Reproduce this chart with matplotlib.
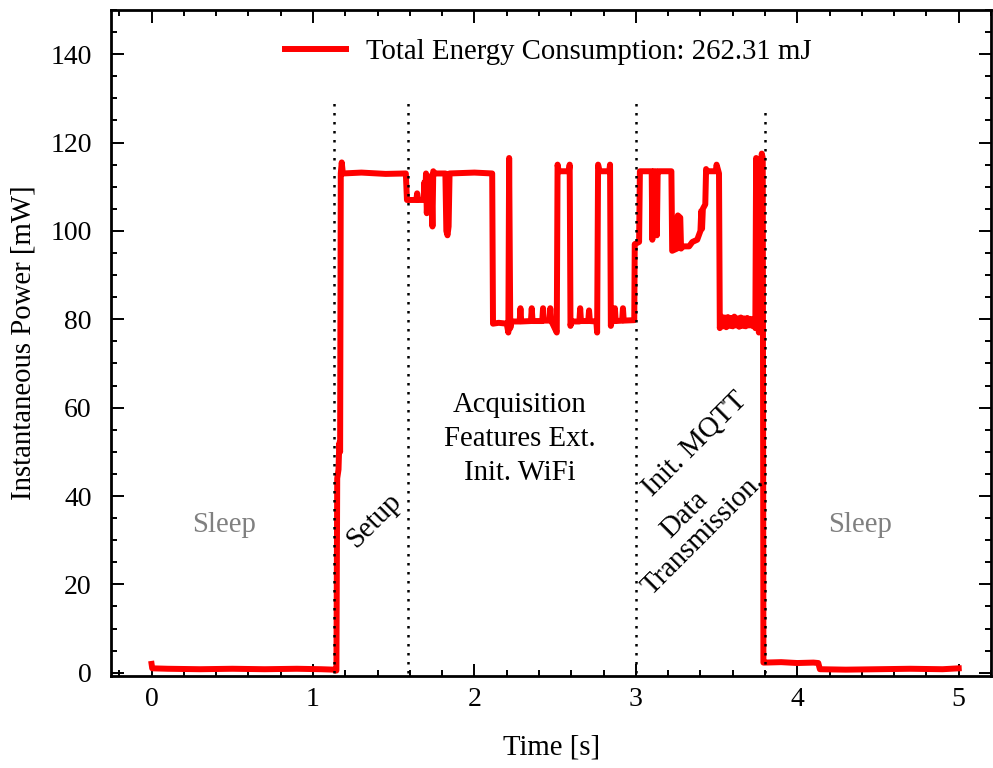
import matplotlib
matplotlib.use("Agg")
import matplotlib.pyplot as plt
from matplotlib.ticker import MultipleLocator

plt.rcParams["font.family"] = ["Liberation Serif", "DejaVu Serif"]
plt.rcParams["mathtext.fontset"] = "stix"

# power trace breakpoints (time in s, power in mW)
t_sleep1 = [0.000, 0.004, 0.10, 0.30, 0.50, 0.70, 0.90, 1.05, 1.13, 1.140]
p_sleep1 = [2.0, 1.0, 0.9, 0.8, 0.9, 0.8, 0.9, 0.8, 0.7, 0.5]

t_setup = [1.145, 1.150, 1.158, 1.163, 1.168, 1.172, 1.178, 1.185, 1.30, 1.45, 1.575]
p_setup = [0.5, 44.0, 46.0, 52.0, 50.0, 113.0, 115.5, 113.0, 113.2, 112.9, 113.0]

t_acq = [1.582, 1.640, 1.645, 1.650, 1.685, 1.690, 1.695, 1.700, 1.705, 1.712,
         1.720, 1.725, 1.733, 1.740, 1.745, 1.752, 1.820, 1.826, 1.833, 1.840,
         1.846, 2.000, 2.110, 2.115, 2.150, 2.200, 2.210, 2.215, 2.222, 2.230,
         2.280, 2.285, 2.290, 2.350, 2.355, 2.360, 2.420, 2.425, 2.430, 2.465,
         2.470, 2.475, 2.510, 2.515, 2.522, 2.530, 2.585, 2.590, 2.595, 2.600,
         2.650, 2.655, 2.660, 2.705, 2.710, 2.715, 2.755, 2.760, 2.766, 2.775,
         2.835, 2.840, 2.845, 2.850, 2.865, 2.870, 2.875, 2.915, 2.920, 2.925,
         2.990]
p_acq = [107.0, 107.0, 108.5, 107.0, 107.0, 111.0, 107.5, 113.0, 104.0, 110.0,
         112.0, 108.0, 112.5, 101.0, 113.5, 113.0, 113.0, 100.0, 99.0, 101.0,
         113.0, 113.2, 113.0, 79.0, 79.2, 79.0, 77.0, 116.5, 78.0, 79.5,
         79.5, 82.5, 79.5, 79.6, 82.5, 79.6, 79.6, 82.5, 79.7, 79.7,
         82.5, 79.7, 77.0, 115.0, 113.5, 113.5, 113.5, 115.0, 78.5, 79.5,
         79.5, 82.5, 79.6, 79.6, 82.0, 79.6, 79.5, 77.0, 115.0, 113.5,
         113.5, 115.0, 78.5, 79.6, 79.6, 82.5, 79.6, 79.7, 82.5, 79.7,
         79.8]

t_mqtt = [2.993, 3.020, 3.025, 3.060, 3.098, 3.102, 3.106, 3.110, 3.125, 3.130,
          3.135, 3.140, 3.220, 3.225, 3.255, 3.260, 3.275, 3.280, 3.290, 3.330,
          3.350, 3.380, 3.400, 3.405, 3.410, 3.415, 3.430, 3.435, 3.440, 3.495,
          3.500, 3.515, 3.520, 3.530, 3.540, 3.550, 3.560, 3.570, 3.580, 3.590,
          3.600, 3.610, 3.620, 3.630, 3.640, 3.650, 3.660, 3.670, 3.680, 3.690,
          3.700, 3.710, 3.720, 3.730, 3.740, 3.745, 3.750, 3.756, 3.762, 3.768,
          3.775, 3.780, 3.786]
p_mqtt = [97.0, 97.5, 113.5, 113.5, 113.5, 98.0, 113.0, 113.5, 113.5, 99.0,
          113.0, 113.5, 113.5, 95.5, 96.0, 103.5, 103.0, 96.0, 96.5, 96.5,
          97.5, 98.0, 100.0, 104.5, 100.5, 105.0, 106.0, 114.0, 113.5, 113.5,
          115.0, 113.0, 78.0, 80.6, 78.4, 80.4, 78.2, 80.5, 78.5, 80.3,
          78.4, 80.6, 78.6, 80.2, 78.3, 80.4, 78.5, 80.2, 78.4, 80.3,
          78.6, 80.1, 78.5, 80.0, 78.0, 116.5, 79.0, 115.5, 77.0, 116.0,
          115.5, 117.5, 116.5]

t_sleep2 = [3.790, 3.800, 3.900, 4.000, 4.100, 4.130, 4.140, 4.300, 4.500, 4.700, 4.900, 5.000]
p_sleep2 = [2.3, 2.3, 2.4, 2.2, 2.3, 2.2, 0.8, 0.7, 0.8, 0.9, 0.8, 1.0]

time_s = t_sleep1 + t_setup + t_acq + t_mqtt + t_sleep2
power_mw = p_sleep1 + p_setup + p_acq + p_mqtt + p_sleep2

# phase boundaries and how high each marker line reaches
phase_t = [1.13, 1.59, 3.00, 3.80]
phase_top = [130, 130, 129, 128]

total_energy_mj = 262.31

FS = 20.7

fig = plt.figure(figsize=(9.93, 7.68), dpi=100)
ax = fig.add_axes([0.112, 0.12, 0.886, 0.867])

ax.plot(time_s, power_mw, color="#ff0000", linewidth=4.3, solid_joinstyle="round",
        label=f"Total Energy Consumption: {total_energy_mj:.2f} mJ")
ax.vlines(phase_t, 0, phase_top, colors="black", linestyles=(0, (1, 2.6)), linewidth=1.8)

ax.text(0.45, 33.4, "Sleep", color="0.5", fontsize=FS, ha="center", va="center")
ax.text(4.39, 33.4, "Sleep", color="0.5", fontsize=FS, ha="center", va="center")
ax.text(1.38, 34.5, "Setup", fontsize=FS, rotation=45, ha="center", va="center")
ax.text(2.28, 53, "Acquisition\nFeatures Ext.\nInit. WiFi", fontsize=FS,
        ha="center", va="center", multialignment="center", linespacing=1.4)
ax.text(3.364, 51.7, "Init. MQTT", fontsize=FS, rotation=45, ha="center", va="center")
ax.text(3.36, 33.6, "Data\nTransmission.", fontsize=FS, rotation=45,
        ha="center", va="center", multialignment="center", linespacing=1.05)

ax.set_xlim(-0.25, 5.2)
ax.set_ylim(-0.7, 150)
ax.set_xlabel("Time [s]", fontsize=FS, labelpad=16)
ax.set_ylabel("Instantaneous Power [mW]", fontsize=FS, labelpad=10)

ax.xaxis.set_major_locator(MultipleLocator(1))
ax.xaxis.set_minor_locator(MultipleLocator(0.2))
ax.yaxis.set_major_locator(MultipleLocator(20))
ax.yaxis.set_minor_locator(MultipleLocator(5))
ax.tick_params(which="both", direction="in", top=True, right=True, labelsize=20, width=1.4)
ax.tick_params(which="major", length=9)
ax.tick_params(which="minor", length=4.5)
ax.tick_params(axis="x", which="major", pad=8)
ax.tick_params(axis="y", which="major", pad=14)
for sp in ax.spines.values():
    sp.set_linewidth(2.0)

ax.legend(loc="upper center", frameon=False, fontsize=FS, handlelength=2.1,
          handletextpad=0.7, bbox_to_anchor=(0.497, 0.995))

fig.savefig("out.png", dpi=100)
